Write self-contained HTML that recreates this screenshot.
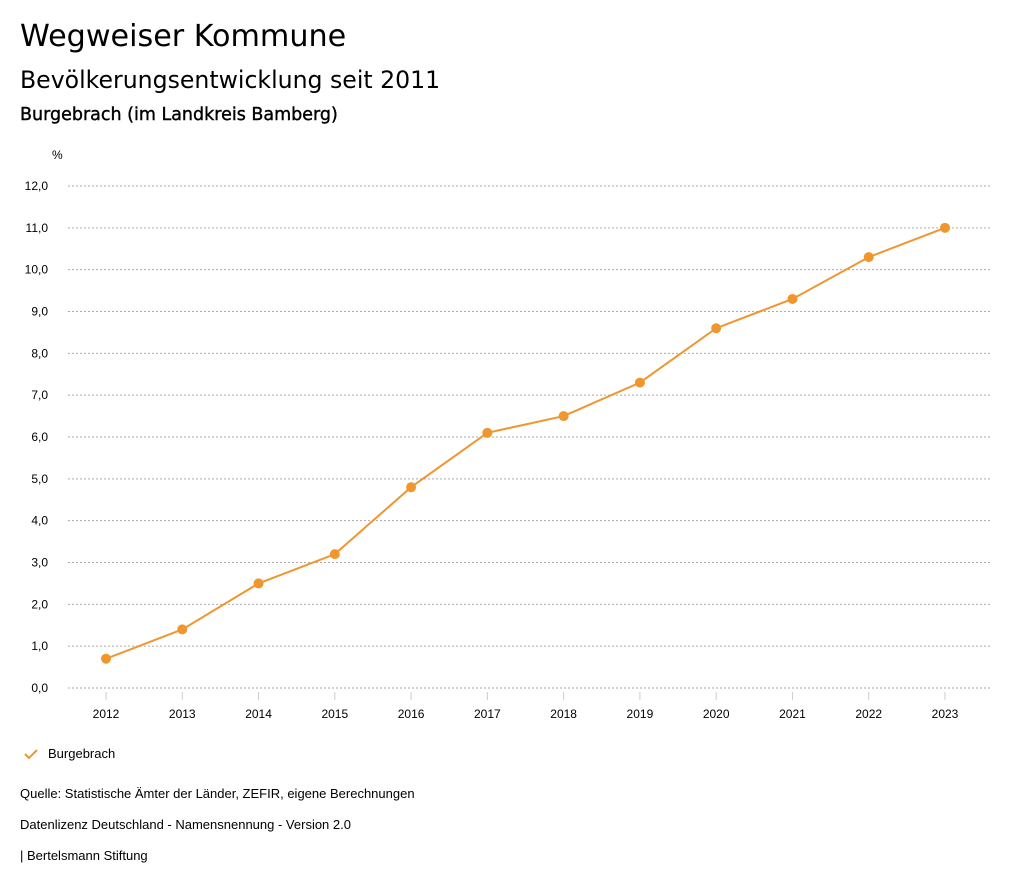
<!DOCTYPE html>
<html><head><meta charset="utf-8"><style>
body{margin:0;width:1024px;height:888px;background:#fff;font-family:"Liberation Sans","DejaVu Sans",sans-serif;color:#000;position:relative;overflow:hidden}
.t{position:absolute;white-space:nowrap}
</style></head><body>
<div class="t" style="left:20px;top:19px;font-size:30.2px;font-family:'DejaVu Sans',sans-serif">Wegweiser Kommune</div>
<div class="t" style="left:20px;top:66px;font-size:23.6px;font-family:'DejaVu Sans',sans-serif">Bevölkerungsentwicklung seit 2011</div>
<div class="t" style="left:20px;top:105px;font-size:17.5px;-webkit-text-stroke:0.4px #000;font-family:'DejaVu Sans',sans-serif">Burgebrach (im Landkreis Bamberg)</div>
<svg id="chart" width="1024" height="888" style="position:absolute;left:0;top:0" font-family="Liberation Sans, sans-serif"></svg>
<svg width="16" height="12" style="position:absolute;left:23px;top:748px"><polyline points="2,6 6,10 14,2" fill="none" stroke="#f0962e" stroke-width="2"/></svg>
<div class="t" style="left:48px;top:746px;font-size:13px">Burgebrach</div>
<div class="t" style="left:20px;top:786px;font-size:13px">Quelle: Statistische Ämter der Länder, ZEFIR, eigene Berechnungen</div>
<div class="t" style="left:20px;top:817px;font-size:13px">Datenlizenz Deutschland - Namensnennung - Version 2.0</div>
<div class="t" style="left:20px;top:848px;font-size:13px">| Bertelsmann Stiftung</div>
<script>
const years=["2012","2013","2014","2015","2016","2017","2018","2019","2020","2021","2022","2023"];
const values=[0.7,1.4,2.5,3.2,4.8,6.1,6.5,7.3,8.6,9.3,10.3,11.0];
const yTicks=[0,1,2,3,4,5,6,7,8,9,10,11,12];
const svg=document.getElementById('chart');
const NS='http://www.w3.org/2000/svg';
const x=i=>106+i*(945-106)/(years.length-1);
const y=v=>688-v*(688-186)/12;
function mk(t,a){const e=document.createElementNS(NS,t);for(const k in a)e.setAttribute(k,a[k]);svg.appendChild(e);return e;}
let u=mk('text',{x:52,y:159,'font-size':12});u.textContent='%';


yTicks.forEach(v=>{
 const g=mk('line',{x1:68,x2:990,y1:y(v),y2:y(v),stroke:'#aaa','stroke-dasharray':'2,2'});
 
 
 const t=mk('text',{x:48,y:y(v)+4,'text-anchor':'end','font-size':12});
 t.textContent=v.toFixed(1).replace('.',',');
 
 
});
years.forEach((yr,i)=>{
 const k=mk('line',{x1:x(i),x2:x(i),y1:692,y2:700,stroke:'#ccc'});
 
 
 const t=mk('text',{x:x(i),y:718,'text-anchor':'middle','font-size':12});
 t.textContent=yr;
 
 
});
const p=mk('polyline',{points:values.map((v,i)=>x(i)+','+y(v)).join(' '),fill:'none',stroke:'#f0962e','stroke-width':2});


values.forEach((v,i)=>{
 const c=mk('circle',{cx:x(i),cy:y(v),r:5,fill:'#f0962e'});
 
 
});
</script>
</body></html>
